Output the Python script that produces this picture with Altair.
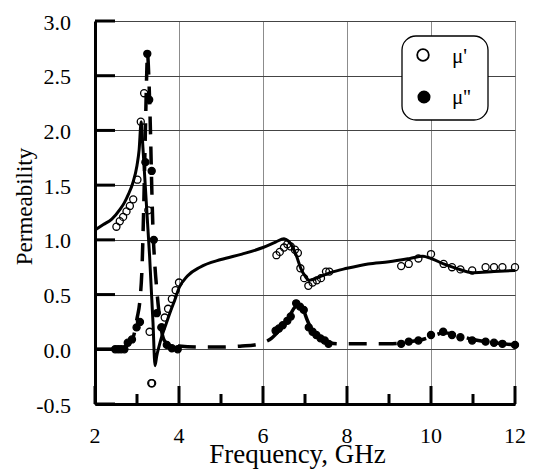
import altair as alt
import pandas as pd

# Measured permeability, real part (open circles)
f_re = [2.51, 2.59, 2.67, 2.75, 2.83, 2.91, 3.01, 3.09, 3.17, 3.27, 3.30, 3.34, 3.36,
        3.58, 3.66, 3.74, 3.83, 3.92, 4.00,
        6.32, 6.40, 6.50, 6.58, 6.66, 6.76, 6.83, 6.89, 6.98, 7.08, 7.18, 7.28, 7.38, 7.50, 7.58,
        9.29, 9.47, 9.70, 10.00, 10.30, 10.50, 10.70, 10.98, 11.30, 11.50, 11.70, 12.00]
mu_re = [1.12, 1.17, 1.21, 1.26, 1.31, 1.37, 1.55, 2.08, 2.34, 1.27, 0.16, -0.31, -0.31,
         0.20, 0.29, 0.37, 0.46, 0.54, 0.61,
         0.86, 0.89, 0.93, 0.96, 0.94, 0.91, 0.88, 0.74, 0.65, 0.58, 0.61, 0.63, 0.65, 0.71, 0.71,
         0.76, 0.78, 0.83, 0.87, 0.78, 0.75, 0.73, 0.72, 0.75, 0.75, 0.75, 0.75]

# Measured permeability, imaginary part (filled circles)
f_im = [2.48, 2.55, 2.62, 2.70, 2.78, 2.88, 2.99, 3.07, 3.20, 3.245, 3.29, 3.35, 3.40,
        3.47, 3.59, 3.71, 3.83, 3.97,
        6.30, 6.38, 6.47, 6.58, 6.66, 6.79, 6.88, 6.97, 7.09, 7.18, 7.27, 7.37, 7.47, 7.56,
        9.29, 9.47, 9.70, 10.00, 10.29, 10.50, 10.70, 10.98, 11.30, 11.50, 11.70, 12.00]
mu_im = [0.0, 0.0, 0.0, 0.0, 0.06, 0.09, 0.20, 0.25, 1.71, 2.70, 2.28, 1.63, 1.00,
         0.33, 0.20, 0.04, 0.01, 0.0,
         0.17, 0.19, 0.22, 0.26, 0.30, 0.42, 0.39, 0.36, 0.20, 0.16, 0.13, 0.10, 0.08, 0.05,
         0.05, 0.07, 0.08, 0.13, 0.16, 0.13, 0.11, 0.08, 0.07, 0.06, 0.05, 0.04]

# Model curve, real part (solid line)
f_fit_re = [2.0, 2.2, 2.4, 2.6, 2.7, 2.8, 2.9, 3.0, 3.05, 3.10, 3.14, 3.18, 3.22, 3.26,
            3.30, 3.34, 3.38, 3.43, 3.47, 3.52, 3.6, 3.7, 3.8, 3.9, 4.0, 4.2, 4.5, 5.0,
            5.5, 6.0, 6.3, 6.5, 6.6, 6.7, 6.8, 6.9, 7.0, 7.1, 7.2, 7.4, 7.6, 8.0, 8.5,
            9.0, 9.5, 9.8, 10.0, 10.3, 10.6, 11.0, 11.5, 12.0]
fit_re = [1.09, 1.14, 1.19, 1.28, 1.34, 1.42, 1.52, 1.68, 1.82, 2.08, 1.85, 1.60, 1.35, 1.10,
          0.85, 0.55, 0.25, -0.15, -0.06, 0.02, 0.13, 0.24, 0.35, 0.45, 0.56, 0.67, 0.75, 0.82,
          0.87, 0.93, 0.98, 1.01, 0.99, 0.94, 0.85, 0.74, 0.67, 0.63, 0.64, 0.67, 0.70, 0.74, 0.78,
          0.80, 0.83, 0.85, 0.83, 0.78, 0.74, 0.70, 0.71, 0.72]

# Model curve, imaginary part (dashed line)
f_fit_im = [2.0, 2.4, 2.6, 2.8, 2.9, 2.95, 3.0, 3.07, 3.12, 3.16, 3.20, 3.23, 3.25, 3.28,
            3.32, 3.35, 3.38, 3.42, 3.47, 3.52, 3.58, 3.65, 3.8, 4.0, 4.5, 5.0, 5.5, 5.8,
            6.0, 6.2, 6.4, 6.6, 6.75, 6.85, 6.95, 7.05, 7.2, 7.4, 7.6, 7.8, 8.5, 9.0, 9.5,
            9.8, 10.1, 10.3, 10.6, 11.0, 11.5, 12.0]
fit_im = [0.0, 0.0, 0.01, 0.05, 0.10, 0.17, 0.28, 0.45, 0.75, 1.30, 2.00, 2.50, 2.70, 2.50,
          2.00, 1.50, 1.10, 0.80, 0.55, 0.35, 0.18, 0.08, 0.04, 0.03, 0.02, 0.02, 0.03, 0.04,
          0.06, 0.10, 0.18, 0.28, 0.38, 0.41, 0.37, 0.27, 0.15, 0.09, 0.06, 0.05, 0.05, 0.05, 0.07,
          0.09, 0.13, 0.15, 0.13, 0.09, 0.06, 0.04]

# Axis ticks and their labels
y_ticks = [-0.5, 0.0, 0.5, 1.0, 1.5, 2.0, 2.5, 3.0]
y_tick_labels = ["-0.5", "0.0", "0.5", "1.0", "1.5", "2.0", "2.5", "3.0"]
x_major = [2, 4, 6, 8, 10, 12]
x_tick_labels = ["2", "4", "6", "8", "10", "12"]
x_minor = [3, 5, 7, 9, 11]

# Legend entries
legend_labels = ["μ'", "μ''"]

W, H = 420, 383
FONT = "Liberation Serif"

pts = pd.DataFrame({
    "f": f_re + f_im,
    "mu": mu_re + mu_im,
    "series": [legend_labels[0]] * len(f_re) + [legend_labels[1]] * len(f_im),
})
fit_re_df = pd.DataFrame({"f": f_fit_re, "mu": fit_re})
fit_im_df = pd.DataFrame({"f": f_fit_im, "mu": fit_im})
y_tick_df = pd.DataFrame({"mu": y_ticks, "label": y_tick_labels})
x_major_df = pd.DataFrame({"f": x_major, "label": x_tick_labels})
x_minor_df = pd.DataFrame({"f": x_minor})

xs = alt.Scale(domain=[2, 12], nice=False, zero=False)
ys = alt.Scale(domain=[-0.5, 3.0], nice=False, zero=False)

x_axis = alt.Axis(
    values=x_major, grid=True, gridColor="#8c8c8c", gridWidth=1,
    ticks=False, tickSize=0, labels=False,
    domain=True, domainColor="black", domainWidth=3,
    title="Frequency, GHz", titleFont=FONT, titleFontSize=27, titleFontWeight="normal",
    titleColor="black", titleX=202, titleY=58, titleBaseline="alphabetic", titleAlign="center",
)
y_axis = alt.Axis(
    values=y_ticks, grid=True, gridColor="#444444", gridWidth=1,
    ticks=False, tickSize=0, labels=False,
    domain=True, domainColor="black", domainWidth=3,
    title="Permeability", titleFont=FONT, titleFontSize=23, titleFontWeight="normal",
    titleColor="black", titleX=-63.5, titleY=185, titleBaseline="alphabetic", titleAlign="center",
    titleAngle=270,
)

X = alt.X("f:Q", scale=xs, axis=x_axis)
Y = alt.Y("mu:Q", scale=ys, axis=y_axis)

solid = alt.Chart(fit_re_df).mark_line(
    color="black", strokeWidth=3, interpolate="monotone"
).encode(x=X, y=Y)

dashed = alt.Chart(fit_im_df).mark_line(
    color="black", strokeWidth=3.5, strokeDash=[18, 12], interpolate="monotone"
).encode(x=X, y=Y)

points = alt.Chart(pts).mark_circle(
    size=50, stroke="black", strokeWidth=1.3, opacity=1
).encode(
    x=X,
    y=Y,
    fill=alt.Fill(
        "series:N",
        scale=alt.Scale(domain=legend_labels, range=["transparent", "black"]),
        legend=None,
    ),
)

# inward tick marks along the left and bottom edges
y_tick_marks = alt.Chart(y_tick_df).mark_rule(
    color="black", strokeWidth=3
).encode(y=Y, x=alt.value(0), x2=alt.value(20))

x_major_marks = alt.Chart(x_major_df).mark_rule(
    color="black", strokeWidth=3
).encode(x=X, y=alt.value(H), y2=alt.value(H - 18))

x_minor_marks = alt.Chart(x_minor_df).mark_rule(
    color="black", strokeWidth=3
).encode(x=X, y=alt.value(H), y2=alt.value(H - 10))

# tick labels
y_tick_text = alt.Chart(y_tick_df).mark_text(
    font=FONT, fontSize=22, fontWeight="normal", color="black", align="right",
    baseline="alphabetic", dy=8.5
).encode(y=Y, x=alt.value(-24), text="label:N")

x_tick_text = alt.Chart(x_major_df).mark_text(
    font=FONT, fontSize=22, fontWeight="normal", color="black", align="center",
    baseline="alphabetic"
).encode(x=X, y=alt.value(H + 39), text="label:N")

# boxed legend in the upper right corner
legend_box = alt.Chart(pd.DataFrame({"label": legend_labels[:1]})).mark_rect(
    fill="white", stroke="black", strokeWidth=1.3, cornerRadius=14
).encode(x=alt.value(307), x2=alt.value(393), y=alt.value(15), y2=alt.value(99))

legend_open = alt.Chart(pd.DataFrame({"label": legend_labels[:1]})).mark_point(
    shape="circle", size=135, filled=False, color="black", strokeWidth=1.8, opacity=1
).encode(x=alt.value(328), y=alt.value(34))

legend_filled = alt.Chart(pd.DataFrame({"label": legend_labels[1:]})).mark_circle(
    size=170, color="black", opacity=1
).encode(x=alt.value(329), y=alt.value(76))

legend_text_re = alt.Chart(pd.DataFrame({"label": legend_labels[:1]})).mark_text(
    font=FONT, fontSize=21, fontWeight="normal", color="black", align="left",
    baseline="alphabetic"
).encode(x=alt.value(357), y=alt.value(42), text="label:N")

legend_text_im = alt.Chart(pd.DataFrame({"label": legend_labels[1:]})).mark_text(
    font=FONT, fontSize=21, fontWeight="normal", color="black", align="left",
    baseline="alphabetic"
).encode(x=alt.value(357), y=alt.value(83), text="label:N")

chart = alt.layer(
    solid, dashed, points, y_tick_marks, x_major_marks, x_minor_marks,
    y_tick_text, x_tick_text,
    legend_box, legend_open, legend_filled, legend_text_re, legend_text_im,
).properties(
    width=W, height=H,
    autosize=alt.AutoSizeParams(type="none"),
    padding={"left": 95, "top": 21, "right": 18, "bottom": 69},
).configure_view(
    stroke="black", strokeWidth=1
)

chart.save("out.html", embed_options={"renderer": "svg", "actions": False})
